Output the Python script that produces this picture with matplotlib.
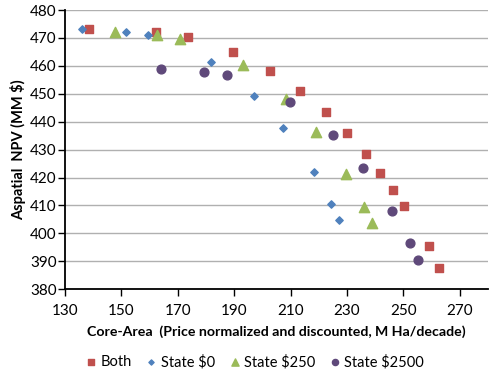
import matplotlib
matplotlib.use('Agg')
import matplotlib.pyplot as plt

# Both
both_x = [138.5, 162.3, 173.5, 189.5, 202.8, 213.2, 222.6, 230.1, 236.6, 241.8, 246.2, 250.3, 258.9, 262.7]
both_y = [473.2, 472.0, 470.2, 465.1, 458.2, 451.0, 443.3, 435.9, 428.4, 421.7, 415.5, 409.7, 395.3, 387.4]
# State $0
s0_x = [135.9, 151.5, 159.3, 181.9, 196.9, 207.4, 218.1, 224.3, 227.2]
s0_y = [473.2, 472.2, 470.9, 461.3, 449.3, 437.7, 422.0, 410.6, 404.6]
# State $250
s250_x = [147.6, 162.7, 170.9, 193.2, 208.4, 219.0, 229.5, 235.9, 238.9]
s250_y = [472.0, 471.0, 469.6, 460.2, 448.3, 436.4, 421.1, 409.4, 403.7]
# State $2500
s2500_x = [164.0, 179.4, 187.4, 209.8, 225.0, 235.6, 246.0, 252.3, 255.3]
s2500_y = [458.9, 457.9, 456.6, 447.1, 435.2, 423.4, 408.0, 396.4, 390.3]

plt.rcParams['font.family'] = ['Lato', 'DejaVu Sans']

fig = plt.figure(figsize=(4.97, 3.74), dpi=100)
ax = fig.add_axes([0.131, 0.227, 0.851, 0.746])

ax.scatter(both_x, both_y, marker='s', s=30, color='#C0504D', label='Both', zorder=3)
ax.scatter(s0_x, s0_y, marker='D', s=14, color='#4F81BD', label='State $0', zorder=3)
ax.scatter(s250_x, s250_y, marker='^', s=55, color='#9BBB59', label='State $250', zorder=3)
ax.scatter(s2500_x, s2500_y, marker='o', s=40, color='#5F497A', label='State $2500', zorder=3)

ax.set_xlim(130, 280)
ax.set_ylim(380, 480)
ax.set_xticks(range(130, 271, 20))
ax.set_yticks(range(380, 481, 10))
ax.yaxis.grid(True, color='#B0B0B0', linewidth=1)
ax.set_axisbelow(True)
ax.spines['top'].set_visible(False)
ax.spines['right'].set_visible(False)
ax.spines['left'].set_linewidth(1.3)
ax.spines['bottom'].set_linewidth(1.3)
ax.tick_params(axis='both', direction='out', length=5, width=1, labelsize=11)
ax.tick_params(axis='x', pad=6)
ax.tick_params(axis='y', pad=1)

ax.set_xlabel('Core-Area  (Price normalized and discounted, M Ha/decade)',
              fontsize=10.2, fontweight='bold', labelpad=5)
ax.set_ylabel('Aspatial  NPV (MM $)', fontsize=10.5, fontweight='bold', labelpad=3)

fig.legend(loc='center', bbox_to_anchor=(0.513, 0.032), ncol=4, frameon=False,
           fontsize=10.5, handlelength=0.7, handletextpad=0.3, columnspacing=1.0,
           markerscale=0.7)

fig.savefig('out.png', dpi=100)
